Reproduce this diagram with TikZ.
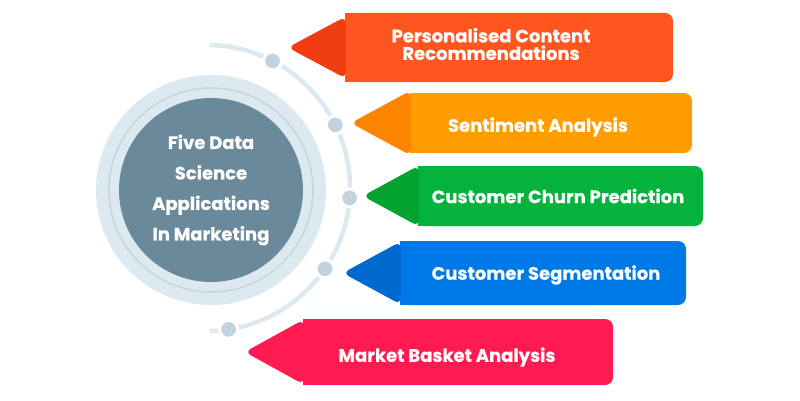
\documentclass[tikz,border=0pt]{standalone}
\usepackage{fontspec}
\setmainfont{Poppins}[BoldFeatures={FakeBold=0.4}]
\usepackage{tikz}
\usetikzlibrary{positioning,calc}

\definecolor{ringlight}{HTML}{DCE9F0}
\definecolor{ringline}{HTML}{C3D5DF}
\definecolor{hubcol}{HTML}{6A8A9B}
\definecolor{dotcol}{HTML}{C2D3DE}
\definecolor{redbody}{HTML}{FF5620}
\definecolor{redtip}{HTML}{F03E10}
\definecolor{orangebody}{HTML}{FF9D00}
\definecolor{orangetip}{HTML}{FF8500}
\definecolor{greenbody}{HTML}{03B33C}
\definecolor{greentip}{HTML}{04A22E}
\definecolor{bluebody}{HTML}{0079E8}
\definecolor{bluetip}{HTML}{0069CF}
\definecolor{pinkbody}{HTML}{FF1B52}

\begin{document}
\begin{tikzpicture}[x=1pt, y=1pt,
    appbox/.style={rectangle, rounded corners=8pt, inner sep=0pt},
    applabel/.style={text=white, align=center, font=\fontsize{18}{17.5}\selectfont\bfseries},
    dot/.style={circle, fill=dotcol, draw=white, line width=3pt, inner sep=0pt, minimum size=18pt},
    arcline/.style={draw=ringlight, line width=4.5pt}]
    \useasboundingbox (0,0) rectangle (800,400);
    \fill[white] (0,0) rectangle (800,400);
        % hub circle
        \node[circle, fill=ringlight, minimum size=230pt] (ring) at (211,210) {};
        \node[circle, draw=ringline, line width=1.5pt, minimum size=204pt] (ringin) at (ring) {};
        \node[circle, fill=hubcol, minimum size=184pt, text=white, align=center,
              font=\fontsize{18}{30.5}\selectfont\bfseries] (hub) at (ring) {Five Data\\Science\\Applications\\In Marketing};
        % arc with dots
        \coordinate (arcc) at (207,212);
        \draw[arcline] ($(arcc)+(89:143)$) arc[start angle=89, end angle=-89, radius=143];
        \foreach \a [count=\k] in {62.7, 26.2, -4, -34.4, -81.3}
            \node[dot] (d\k) at ($(arcc)+(\a:143)$) {};
        % pencil arrows: body, tip, label
        \foreach \i/\cx/\cy/\w/\h/\tl/\tb/\lx/\ly/\bcol/\tcol/\txt in {
            1/509/352.5/328/69/57/31/491/356/redbody/redtip/{Personalised Content\\Recommendations},
            2/551/277/282/60/59/32.5/538/273/orangebody/orangetip/{Sentiment Analysis},
            3/560.5/204/285/60/55/30.5/558/204/greenbody/greentip/{Customer Churn Prediction},
            4/543/127/286/64/57/31.5/546/125/bluebody/bluetip/{Customer Segmentation},
            5/458/48/310/66/58/32.5/447/43/pinkbody/pinkbody/{Market Basket Analysis}} {
            \node[appbox, fill=\bcol, minimum width=\w pt, minimum height=\h pt] (p\i) at (\cx,\cy) {};
            \fill[\bcol] (p\i.north west) rectangle ($(p\i.south west)+(10,0)$);
            \coordinate (t\i) at ($(p\i.west)+(-\tl,0)$);
            \fill[\tcol, rounded corners=7pt] ($(p\i.west)+(1,\tb)$) -- (t\i) -- ($(p\i.west)+(1,-\tb)$) -- cycle;
            \node[applabel] (l\i) at (\lx,\ly) {\txt};
        }
\end{tikzpicture}
\end{document}
